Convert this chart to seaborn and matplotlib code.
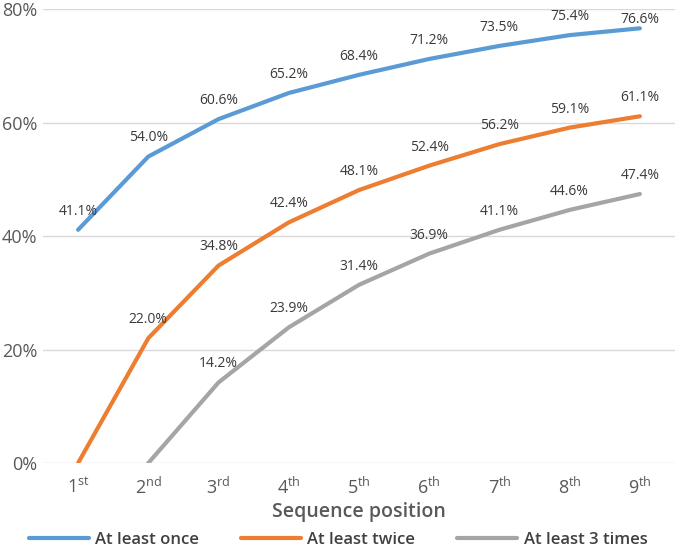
import numpy as np
import pandas as pd
import matplotlib
matplotlib.use("Agg")
import matplotlib.pyplot as plt
import seaborn as sns

# data
positions = ["1st", "2nd", "3rd", "4th", "5th", "6th", "7th", "8th", "9th"]
tick_labels = [r"1$^{\mathregular{st}}$", r"2$^{\mathregular{nd}}$", r"3$^{\mathregular{rd}}$",
               r"4$^{\mathregular{th}}$", r"5$^{\mathregular{th}}$", r"6$^{\mathregular{th}}$",
               r"7$^{\mathregular{th}}$", r"8$^{\mathregular{th}}$", r"9$^{\mathregular{th}}$"]
at_least_once = [41.1, 54.0, 60.6, 65.2, 68.4, 71.2, 73.5, 75.4, 76.6]
at_least_twice = [0.0, 22.0, 34.8, 42.4, 48.1, 52.4, 56.2, 59.1, 61.1]
at_least_3 = [np.nan, 0.0, 14.2, 23.9, 31.4, 36.9, 41.1, 44.6, 47.4]
series_names = ["At least once", "At least twice", "At least 3 times"]
colors = ["#5B9BD5", "#ED7D31", "#A5A5A5"]

sns.set_theme(style="white")
plt.rcParams["font.family"] = ["Open Sans", "DejaVu Sans"]
plt.rcParams["mathtext.fontset"] = "custom"
plt.rcParams["mathtext.rm"] = "Open Sans"

rows = []
for name, vals in zip(series_names, [at_least_once, at_least_twice, at_least_3]):
    for i, v in enumerate(vals):
        rows.append({"pos": i, "value": v, "series": name})
df = pd.DataFrame(rows).dropna()

fig = plt.figure(figsize=(6.76, 5.53), dpi=100)
ax = fig.add_axes([0.0636, 0.1627, 0.9349, 0.8210])

sns.lineplot(data=df, x="pos", y="value", hue="series", hue_order=series_names,
             palette=colors, linewidth=3, ax=ax, legend=True)

# data labels (zero start points have no label); labels near the top are pulled down
for name in series_names:
    sub = df[(df["series"] == name) & (df["value"] > 0)]
    for _, r in sub.iterrows():
        dy = 8 if r["value"] < 76 else 1
        ax.annotate(f"{r['value']:.1f}%", (r["pos"], r["value"]),
                    xytext=(0, dy), textcoords="offset points",
                    ha="center", va="bottom", fontsize=10, color="#3A3A3A")

ax.set_xlim(-0.5, 8.5)
ax.set_ylim(0, 80)
ax.set_yticks([0, 20, 40, 60, 80])
ax.set_yticklabels(["0%", "20%", "40%", "60%", "80%"])
ax.set_xticks(range(len(positions)))
ax.set_xticklabels(tick_labels)
ax.tick_params(axis="both", length=0, labelsize=13, labelcolor="#595959")
ax.tick_params(axis="x", pad=10)
ax.tick_params(axis="y", pad=4)
ax.yaxis.grid(True, color="#D9D9D9", linewidth=1)
ax.set_axisbelow(True)
for s in ax.spines.values():
    s.set_visible(False)

ax.set_xlabel("Sequence position", fontsize=14, color="#595959", fontweight="semibold", labelpad=3)
ax.set_ylabel("")

handles, labels = ax.get_legend_handles_labels()
ax.legend_.remove()
leg = fig.legend(handles, labels, loc="lower center", bbox_to_anchor=(0.5, -0.018), ncol=3,
                 frameon=False, handlelength=3.6, handletextpad=0.4, columnspacing=2.5,
                 prop={"size": 12, "weight": "semibold"})
for t in leg.get_texts():
    t.set_color("#404040")

fig.savefig("out.png", dpi=100)
